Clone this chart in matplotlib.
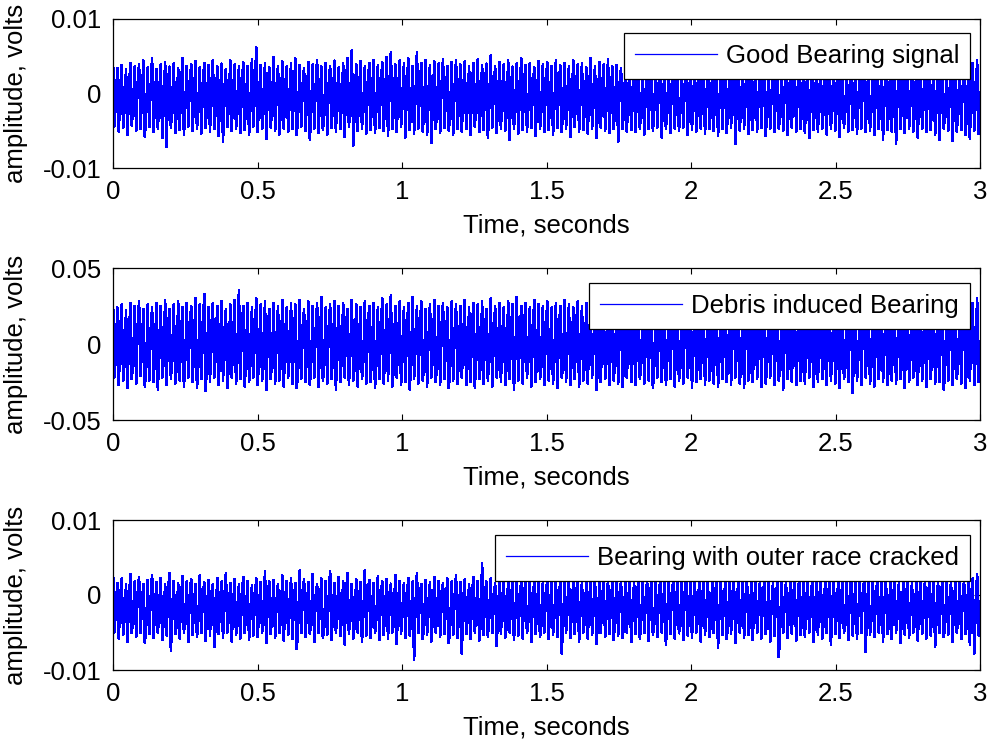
import numpy as np
import matplotlib
matplotlib.use("Agg")
import matplotlib.pyplot as plt

plt.rcParams['font.family'] = ['Liberation Sans', 'DejaVu Sans']
plt.rcParams['axes.unicode_minus'] = False

# ---------------- data (millivolts) ----------------
good_peaks = [
    4.6, 3.4, 3.8, 3.2, 4.1, 3.6, 3.9, 4.4, 3.5, 4.7, 3.3, 3.9, 4.2, 3.6, 4.0, 3.4, 4.8, 3.7, 3.9, 4.3,
    3.5, 4.1, 3.8, 4.5, 3.6, 4.0, 3.3, 4.4, 3.9, 3.6, 4.2, 3.7, 4.6, 6.2, 3.8, 4.1, 3.5, 4.9, 3.7, 4.3,
    3.6, 4.0, 4.7, 3.8, 3.4, 4.2, 3.9, 4.5, 3.6, 4.1, 3.7, 4.4, 3.5, 4.0, 4.8, 5.8, 3.9, 4.3, 3.6, 4.1,
    4.5, 3.8, 4.2, 4.9, 5.6, 3.9, 4.4, 4.0, 4.7, 3.7, 5.6, 4.1, 4.5, 3.8, 4.3, 4.0, 4.6, 3.7, 4.2, 4.4,
    3.9, 4.3, 3.6, 4.1, 4.6, 3.8, 4.0, 5.1, 3.7, 4.2, 3.9, 4.4, 3.6, 4.0, 4.7, 3.8, 4.1, 3.5, 4.3, 3.9,
    4.2, 3.7, 4.5, 3.8, 4.1, 3.6, 4.4, 3.9, 4.0, 3.5, 4.8, 3.7, 4.2, 3.9, 4.6, 3.6, 3.8, 3.4, 3.7, 3.5,
    3.3, 3.6, 3.1, 3.5, 3.2, 3.7, 3.4, 3.0, 3.6, 3.3, 3.5, 3.1, 3.4, 3.7, 3.2, 3.5, 3.3, 3.6, 3.0, 3.4,
    3.5, 3.2, 3.6, 3.3, 3.1, 3.5, 3.4, 3.7, 3.2, 3.6, 3.3, 3.0, 3.5, 3.4, 3.2, 3.6, 3.1, 3.5, 3.3, 3.7,
    3.2, 3.4, 3.6, 3.1, 3.5, 3.3, 3.7, 3.2, 3.4, 3.0, 3.6, 3.3, 3.5, 3.2, 3.4, 3.6, 3.1, 3.3, 3.5, 3.2,
    3.4, 3.6, 3.3, 3.5, 3.1, 3.4, 3.7, 3.2, 3.5, 3.3, 3.6, 3.4, 3.2, 3.5, 3.3, 3.6, 3.8, 3.4, 4.1, 4.4,
]
good_troughs = [
    -4.4, -5.1, -4.6, -5.6, -4.3, -5.0, -4.7, -5.8, -4.5, -5.2, -4.8, -6.0, -7.2, -4.6, -5.3, -4.9, -5.5, -4.4, -5.0, -4.7,
    -5.4, -4.6, -5.1, -4.8, -5.7, -6.5, -4.5, -5.0, -4.7, -5.3, -4.9, -5.6, -4.4, -5.2, -4.8, -6.1, -4.6, -5.0, -5.5, -4.7,
    -5.2, -4.8, -5.6, -4.5, -5.0, -6.2, -4.7, -5.3, -4.9, -5.5, -4.6, -5.1, -4.8, -5.8, -4.5, -7.0, -5.0, -4.7, -5.4, -4.9,
    -5.3, -4.6, -5.0, -5.7, -4.8, -5.2, -4.5, -5.9, -4.9, -5.4, -4.7, -5.1, -5.6, -6.6, -4.8, -5.3, -4.6, -5.0, -5.5, -4.7,
    -5.1, -4.8, -5.6, -4.5, -5.2, -4.9, -6.0, -4.6, -5.3, -4.8, -5.0, -6.2, -4.7, -5.4, -4.9, -5.1, -4.6, -5.7, -4.8, -5.2,
    -4.9, -5.5, -4.6, -5.2, -4.8, -5.8, -4.5, -5.1, -4.9, -5.4, -4.7, -6.0, -4.6, -5.0, -5.3, -4.8, -6.5, -4.7, -5.1, -4.9,
    -5.2, -4.7, -5.5, -4.8, -5.0, -4.6, -5.9, -4.8, -5.3, -4.7, -5.0, -4.6, -5.6, -4.9, -5.1, -4.7, -5.4, -4.8, -5.0, -5.7,
    -4.8, -5.3, -4.6, -6.8, -5.0, -4.7, -5.4, -4.9, -5.1, -4.6, -5.7, -4.8, -5.2, -4.7, -5.0, -5.5, -4.6, -5.1, -4.8, -5.3,
    -6.0, -4.9, -5.2, -4.7, -5.5, -4.8, -5.0, -5.8, -4.6, -5.1, -4.9, -5.4, -4.7, -5.2, -5.0, -5.6, -4.8, -6.2, -4.9, -5.1,
    -6.8, -4.8, -5.3, -4.7, -5.1, -5.9, -4.8, -5.2, -4.9, -5.5, -6.2, -4.7, -5.0, -6.4, -5.2, -4.9, -5.6, -6.1, -5.0, -5.4,
]
good_mid = [
    -0.8, 0.6, -1.9, 0.2, -1.2, 1.1, -0.4, -2.2, 0.8, -1.0, 0.3, -1.7, 1.3, -0.6, -2.4, 0.5, -1.3, 0.9, -0.2, -1.8,
    0.4, -1.1, 1.2, -2.0, -0.3, 0.7, -1.5, 0.1, -2.3, 1.0, -0.7, -1.4, 0.6, -0.1, -2.1, 1.4, -0.9, 0.2, -1.6, 0.8,
    -1.2, 0.3, -2.0, 1.1, -0.5, -1.7, 0.7, -0.2, -2.4, 0.9, -1.0, 0.4, -1.5, 1.2, -0.6, -2.1, 0.1, -1.3, 0.8, -0.4,
    -1.9, 0.5, -0.8, 1.3, -2.2, 0.2, -1.1, 0.6, -1.6, -0.3, 1.0, -2.0, 0.4, -0.9, -1.4, 1.1, -0.1, -2.3, 0.7, -1.2,
    0.3, -1.8, 0.9, -0.5, -2.1, 1.2, -0.7, 0.1, -1.5, 0.6, -2.4, 0.8, -1.0, -0.2, 1.3, -1.7, 0.4, -0.8, -2.0, 1.0,
    -0.4, -1.3, 0.7, -2.2, 0.2, -1.1, 1.1, -0.6, -1.8, 0.5, -0.3, -2.1, 0.9, -1.4, 0.1, -0.9, 1.2, -2.3, 0.3, -1.2,
    0.6, -1.6, -0.1, 1.0, -2.0, 0.4, -0.7, -1.5, 0.8, -0.3, -2.2, 1.1, -1.0, 0.2, -1.7, 0.5, -0.5, -2.4, 0.9, -1.1,
    0.1, -1.9, 1.3, -0.6, -1.3, 0.7, -2.1, 0.3, -0.8, 1.0, -1.6, -0.2, 0.6, -2.3, 0.4, -1.2, 1.2, -0.4, -1.8, 0.8,
    -0.9, -1.4, 0.5, -2.0, 1.1, -0.1, -1.5, 0.2, -2.2, 0.9, -0.6, -1.1, 1.3, -0.3, -1.9, 0.6, -1.0, 0.1, -2.4, 0.7,
    -0.5, -1.7, 1.0, -0.8, -2.1, 0.4, -1.3, 0.8, -0.2, -1.6, 1.2, -2.0, 0.3, -0.7, -1.4, 0.5, -2.3, 1.1, -0.9, 0.2,
]
debris_peaks = [
    29, 24, 26, 22, 27, 25, 28, 23, 26, 24, 27, 25, 29, 23, 26, 28, 24, 27, 25, 30,
    26, 33, 24, 27, 25, 28, 23, 26, 29, 35, 25, 27, 24, 30, 26, 28, 23, 27, 25, 29,
    24, 27, 26, 29, 23, 28, 25, 27, 31, 24, 26, 28, 25, 27, 23, 29, 26, 24, 28, 25,
    27, 24, 30, 26, 32, 25, 28, 24, 27, 31, 25, 28, 23, 26, 29, 25, 27, 24, 28, 26,
    25, 29, 24, 27, 26, 28, 23, 30, 25, 27, 24, 28, 26, 31, 25, 27, 24, 29, 26, 25,
    28, 24, 27, 25, 29, 26, 24, 28, 25, 27, 23, 26, 28, 25, 27, 24, 26, 25, 27, 24,
    26, 25, 27, 24, 26, 28, 25, 23, 27, 25, 26, 24, 28, 25, 26, 27, 24, 26, 25, 27,
    25, 27, 24, 26, 28, 25, 26, 24, 27, 25, 23, 26, 28, 24, 27, 25, 26, 24, 27, 25,
    26, 24, 27, 25, 28, 26, 24, 27, 25, 26, 28, 24, 25, 27, 26, 24, 28, 25, 26, 27,
    24, 26, 27, 25, 28, 24, 26, 25, 27, 24, 26, 28, 25, 27, 24, 26, 25, 28, 27, 30,
]
debris_troughs = [
    -22, -27, -24, -29, -23, -26, -21, -28, -24, -25, -30, -22, -27, -23, -26, -24, -28, -22, -25, -29,
    -23, -31, -25, -22, -27, -24, -29, -22, -26, -23, -28, -25, -22, -27, -24, -30, -23, -26, -24, -28,
    -22, -26, -29, -23, -25, -27, -22, -28, -24, -26, -23, -30, -25, -22, -27, -24, -28, -23, -26, -25,
    -29, -23, -26, -24, -28, -22, -27, -25, -30, -23, -26, -24, -28, -22, -25, -27, -23, -29, -24, -26,
    -22, -27, -25, -29, -23, -26, -24, -28, -22, -25, -27, -23, -30, -24, -26, -22, -28, -25, -23, -27,
    -24, -26, -29, -22, -25, -27, -23, -28, -24, -26, -22, -30, -25, -23, -27, -24, -26, -28, -22, -25,
    -27, -23, -26, -24, -29, -22, -25, -27, -23, -28, -24, -26, -22, -29, -25, -23, -27, -24, -26, -28,
    -23, -25, -27, -22, -26, -29, -24, -25, -23, -28, -26, -22, -27, -24, -30, -23, -25, -27, -24, -26,
    -22, -28, -25, -23, -27, -24, -26, -29, -23, -25, -32, -24, -27, -22, -26, -28, -23, -25, -27, -24,
    -26, -23, -29, -25, -22, -27, -24, -28, -23, -26, -25, -30, -24, -27, -23, -26, -29, -24, -27, -25,
]
debris_mid = [
    -6, 8, -12, 3, -9, 11, -2, -14, 6, -7, 1, -11, 10, -4, -15, 5, -8, 9, 0, -13,
    4, -10, 12, -5, -1, 7, -13, 2, -9, 10, -6, -12, 8, -3, -14, 11, -7, 1, -10, 6,
    -8, 3, -15, 9, -4, -11, 7, -1, -13, 10, -6, 4, -9, 12, -3, -14, 2, -10, 8, -5,
    -12, 5, -7, 11, -15, 1, -8, 6, -11, -2, 9, -13, 4, -6, -10, 12, 0, -14, 7, -9,
    3, -12, 10, -4, -15, 8, -5, 2, -11, 6, -13, 9, -7, -1, 11, -10, 4, -8, -14, 7,
    -3, -9, 6, -13, 1, -7, 12, -5, -12, 5, -2, -15, 9, -10, 3, -6, 11, -14, 2, -8,
    7, -11, 0, 10, -13, 4, -4, -9, 8, -2, -15, 12, -7, 1, -12, 6, -5, -14, 9, -8,
    2, -10, 11, -3, -13, 7, -15, 3, -6, 10, -11, -1, 5, -14, 4, -9, 12, -4, -12, 8,
    -7, -10, 6, -13, 11, 0, -11, 2, -15, 9, -5, -8, 12, -2, -13, 5, -7, 1, -14, 7,
    -4, -12, 10, -6, -15, 3, -9, 8, -1, -11, 11, -13, 4, -5, -10, 6, -14, 9, -7, 2,
]
cracked_peaks = [
    3.3, 1.6, 2.2, 1.4, 2.8, 1.8, 2.4, 1.5, 2.0, 2.7, 1.7, 2.3, 1.4, 2.9, 1.9, 1.6, 2.5, 1.8, 2.1, 1.5,
    2.6, 1.7, 2.0, 1.4, 2.3, 1.8, 2.9, 1.6, 2.1, 1.5, 2.4, 1.9, 1.3, 2.2, 1.7, 3.2, 1.8, 2.0, 1.5, 2.6,
    1.9, 2.3, 1.6, 3.3, 2.1, 1.7, 2.8, 1.5, 2.2, 1.9, 3.2, 1.6, 2.4, 1.8, 2.9, 1.5, 2.1, 1.7, 3.3, 2.0,
    1.6, 2.5, 1.8, 2.1, 1.5, 2.7, 1.9, 1.6, 2.3, 1.8, 2.9, 1.5, 2.0, 1.7, 2.4, 1.9, 1.6, 2.2, 1.8, 2.6,
    1.7, 2.1, 1.5, 2.4, 1.9, 4.2, 1.8, 2.2, 1.6, 2.0, 1.8, 2.3, 1.7, 1.9, 2.1, 1.6, 2.2, 1.8, 2.0, 1.7,
    2.0, 1.7, 2.2, 1.8, 1.6, 2.1, 1.9, 2.3, 1.7, 2.0, 1.8, 2.2, 1.6, 1.9, 2.1, 1.7, 2.0, 1.8, 2.3, 1.9,
    1.7, 2.1, 1.8, 2.0, 1.6, 2.2, 1.9, 1.7, 2.1, 1.8, 2.0, 1.6, 2.3, 1.8, 1.9, 2.1, 1.7, 2.0, 1.8, 2.2,
    1.9, 1.7, 2.1, 1.8, 2.0, 1.6, 2.2, 1.9, 1.7, 2.0, 1.8, 2.1, 1.6, 1.9, 2.2, 1.7, 2.0, 1.8, 2.1, 1.9,
    1.8, 2.0, 1.7, 2.2, 1.9, 1.6, 2.1, 1.8, 2.0, 1.7, 2.3, 1.9, 1.8, 2.0, 1.6, 2.1, 1.9, 1.7, 2.2, 1.8,
    2.0, 1.7, 2.1, 1.9, 1.6, 2.2, 1.8, 2.0, 1.7, 2.1, 1.9, 1.8, 2.2, 1.7, 2.0, 2.4, 1.9, 2.6, 2.2, 2.8,
]
cracked_troughs = [
    -5.0, -5.8, -5.3, -6.2, -5.1, -5.6, -5.0, -6.4, -5.2, -5.7, -5.1, -6.0, -5.4, -7.5, -5.2, -5.8, -5.0, -6.3, -5.3, -5.6,
    -5.1, -6.1, -5.4, -6.9, -5.2, -5.7, -5.0, -6.2, -5.3, -5.8, -5.1, -6.0, -5.4, -5.6, -5.0, -6.4, -5.2, -5.7, -5.1, -6.1,
    -5.3, -5.8, -7.2, -5.1, -5.6, -5.2, -6.3, -5.0, -5.7, -5.3, -6.0, -5.1, -5.5, -6.6, -5.2, -5.8, -5.0, -6.2, -5.4, -5.7,
    -5.1, -6.0, -5.3, -5.8, -5.0, -6.5, -5.2, -5.7, -5.4, -8.7, -5.1, -5.9, -5.3, -6.2, -5.0, -5.6, -5.2, -6.4, -5.3, -5.7,
    -7.8, -5.2, -5.8, -5.0, -6.1, -5.3, -5.6, -5.1, -6.8, -5.2, -5.7, -5.0, -6.0, -5.4, -5.8, -5.1, -6.3, -5.2, -5.6, -5.0,
    -5.9, -5.3, -5.6, -7.8, -5.1, -5.7, -5.2, -6.2, -5.0, -5.8, -5.3, -6.5, -5.1, -5.6, -5.2, -6.0, -5.4, -5.7, -5.0, -6.3,
    -5.2, -5.8, -5.1, -6.1, -5.3, -5.6, -5.0, -6.7, -5.2, -5.8, -5.1, -6.0, -5.4, -5.7, -5.0, -6.2, -5.3, -5.6, -5.1, -7.0,
    -5.3, -5.9, -5.2, -6.4, -5.0, -5.7, -5.3, -6.0, -5.1, -5.8, -5.2, -6.3, -5.4, -8.3, -5.1, -5.7, -5.2, -6.1, -5.3, -5.6,
    -5.0, -6.2, -5.3, -5.8, -5.1, -6.6, -5.2, -5.7, -5.0, -6.0, -5.4, -5.8, -5.1, -7.6, -5.3, -5.6, -5.0, -6.2, -5.2, -5.9,
    -5.1, -6.4, -5.3, -5.7, -5.0, -6.1, -5.2, -5.8, -5.4, -6.9, -5.1, -5.6, -5.3, -6.3, -5.0, -5.9, -5.2, -6.6, -7.8, -5.4,
]
cracked_mid = [
    -1.8, -0.2, -3.1, -0.9, -2.4, 0.1, -1.3, -3.8, -0.5, -2.0, -1.1, -3.4, 0.2, -1.6, -4.0, -0.7, -2.6, -0.1, -1.4, -3.2,
    -0.6, -2.2, 0.3, -3.6, -1.0, -0.3, -2.8, -1.5, -3.9, -0.2, -1.9, -2.5, -0.4, -1.2, -3.7, 0.1, -2.1, -0.8, -3.0, -0.5,
    -2.3, -0.9, -3.5, 0.0, -1.7, -2.9, -0.3, -1.1, -4.1, -0.6, -2.0, -1.4, -3.3, 0.2, -1.5, -3.8, -0.8, -2.4, -0.1, -1.9,
    -3.1, -0.4, -2.2, 0.1, -3.7, -1.0, -1.8, -0.5, -3.0, -1.3, -0.2, -3.6, -0.9, -2.5, -2.0, 0.3, -1.2, -4.0, -0.3, -2.7,
    -0.7, -3.2, -0.1, -1.6, -3.9, 0.1, -2.1, -1.0, -2.8, -0.4, -4.2, -0.6, -2.3, -1.4, 0.2, -3.4, -0.8, -1.7, -3.8, -0.2,
    -1.5, -2.6, -0.5, -3.5, -0.9, -2.0, 0.0, -1.8, -3.3, -0.6, -1.2, -3.9, -0.3, -2.4, -1.0, -1.9, 0.2, -4.1, -0.7, -2.2,
    -0.4, -3.0, -1.1, 0.1, -3.7, -0.8, -1.6, -2.7, -0.2, -1.3, -4.0, 0.3, -2.1, -0.9, -3.2, -0.5, -1.5, -3.8, -0.1, -2.3,
    -1.0, -3.4, 0.2, -1.7, -2.5, -0.3, -3.6, -0.7, -1.9, -0.1, -2.9, -1.2, -0.4, -4.1, -0.8, -2.2, 0.1, -1.4, -3.3, -0.6,
    -2.0, -2.8, -0.5, -3.5, 0.0, -1.1, -2.6, -0.9, -3.9, -0.2, -1.6, -2.3, 0.2, -1.3, -3.1, -0.4, -2.1, -1.0, -4.2, -0.3,
    -1.4, -3.0, -0.1, -1.8, -3.7, -0.6, -2.4, -0.2, -1.2, -2.9, 0.1, -3.5, -0.7, -1.5, -2.7, -0.5, -3.8, 0.2, -1.7, -0.9,
]

labels = ["Good Bearing signal", "Debris induced Bearing", "Bearing with outer race cracked"]
ylims = [0.01, 0.05, 0.01]
ytick_labels = [["-0.01", "0", "0.01"], ["-0.05", "0", "0.05"], ["-0.01", "0", "0.01"]]
xticks = [0, 0.5, 1, 1.5, 2, 2.5, 3]
xtick_labels = ["0", "0.5", "1", "1.5", "2", "2.5", "3"]
t_max = 3.0

signals = [(good_peaks, good_troughs, good_mid),
           (debris_peaks, debris_troughs, debris_mid),
           (cracked_peaks, cracked_troughs, cracked_mid)]

# ---------------- figure ----------------
fig = plt.figure(figsize=(9.89, 7.40), dpi=100)
W, H = 989.0, 740.0
boxes = [(19, 168), (268, 420), (520, 670)]
left_px, right_px = 113, 980
legend_tops = [33, 283, 535]
FS = 18.5

for k, ((pk, tr, md), (top, bot)) in enumerate(zip(signals, boxes)):
    ax = fig.add_axes([left_px / W, 1 - bot / H, (right_px - left_px) / W, (bot - top) / H])
    sig = np.empty(3 * len(pk))
    sig[0::3] = pk
    sig[1::3] = tr
    sig[2::3] = md
    sig = sig * 1e-3
    t = np.linspace(0, t_max, len(sig))
    ax.plot(t, sig, color='#0000ff', lw=1.2, antialiased=False, label=labels[k])
    ax.set_xlim(0, t_max)
    yl = ylims[k]
    ax.set_ylim(-yl, yl)
    ax.set_yticks([-yl, 0, yl])
    ax.set_yticklabels(ytick_labels[k])
    ax.set_xticks(xticks)
    ax.set_xticklabels(xtick_labels)
    ax.tick_params(direction='in', length=4, width=0.8, top=True, right=True,
                   labelsize=FS, pad=8.5, colors='black')
    for s in ax.spines.values():
        s.set_linewidth(0.9)
        s.set_color('black')
    ax.set_xlabel("Time, seconds", fontsize=FS, labelpad=7)
    ax.set_ylabel("amplitude, volts", fontsize=FS)
    ax.yaxis.set_label_coords(-0.098, 0.5)
    lt = (bot - legend_tops[k]) / (bot - top)
    leg = ax.legend(loc='upper right', bbox_to_anchor=(0.9885, lt), borderaxespad=0,
                    fontsize=FS, fancybox=False, framealpha=1, edgecolor='black',
                    handlelength=3.2, handletextpad=0.35, borderpad=0.42)
    leg.get_frame().set_linewidth(0.9)
    for ln in leg.get_lines():
        ln.set_linewidth(0.9)
        ln.set_antialiased(True)

fig.savefig("out.png", dpi=100)
